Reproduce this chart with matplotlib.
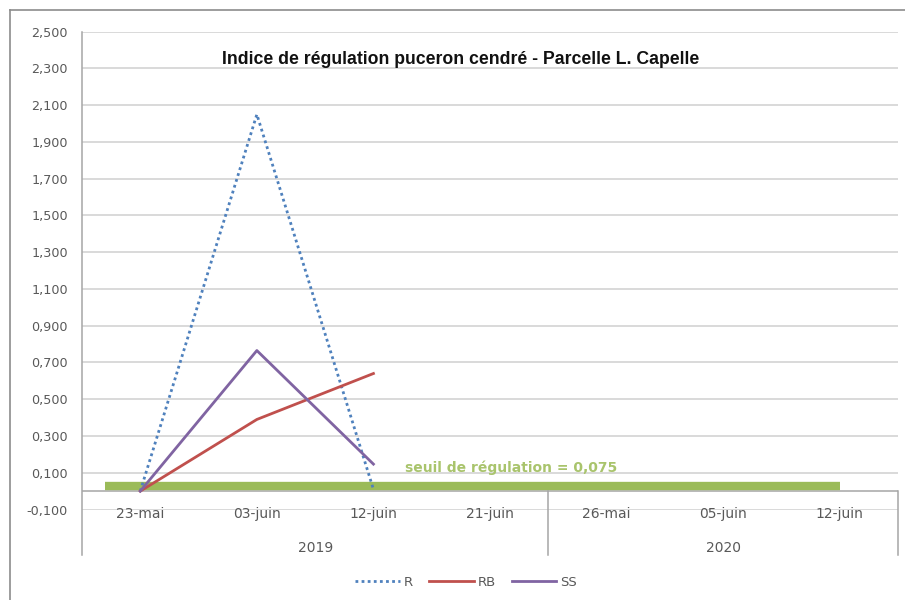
import numpy as np
import matplotlib
matplotlib.use("Agg")
import matplotlib.pyplot as plt
from matplotlib.lines import Line2D

# données
categories = ["23-mai", "03-juin", "12-juin", "21-juin", "26-mai", "05-juin", "12-juin"]
annees = ["2019", "2020"]
nb_par_annee = [4, 3]
serie_R = [0.0, 2.05, 0.01]
serie_RB = [0.0, 0.39, 0.64]
serie_SS = [0.0, 0.765, 0.147]
seuil = 0.027
yticks = np.round(np.arange(-0.1, 2.51, 0.2), 3)

W, H = 905, 600
gris = "#595959"
grille = "#D0D0D0"
axe = "#A6A6A6"
police = "DejaVu Sans"

fig = plt.figure(figsize=(W / 100, H / 100), dpi=100)
left, right, top, bottom = 82, 898, 31.7, 509.5
ax = fig.add_axes([left / W, 1 - bottom / H, (right - left) / W, (bottom - top) / H])

x = np.arange(len(categories))
ax.set_xlim(-0.5, len(categories) - 0.5)
ax.set_ylim(yticks[0], yticks[-1])

for v in yticks:
    ax.axhline(v, color=grille, lw=1.1, zorder=0)

# seuil
ax.hlines(seuil, -0.3, len(categories) - 1, color="#9BBB59", lw=6, zorder=2)
ax.text(2.27, 0.125, "seuil de régulation = 0,075", color="#A9C46C", fontsize=10,
        fontweight="bold", family=police, va="center", ha="left")

ax.plot(x[:len(serie_R)], serie_R, color="#4F81BD", lw=2, linestyle=(0, (1, 1.2)), zorder=3)
ax.plot(x[:len(serie_RB)], serie_RB, color="#C0504D", lw=2, zorder=3)
ax.plot(x[:len(serie_SS)], serie_SS, color="#8064A2", lw=2, zorder=3)

# axes
for s in ax.spines.values():
    s.set_visible(False)
ax.set_xticks([])
ax.set_yticks(yticks)
ax.set_yticklabels([f"{v:.3f}".replace(".", ",") for v in yticks], fontsize=9.2,
                   color=gris, family=police)
ax.tick_params(axis="y", length=0, pad=10)

px = (yticks[-1] - yticks[0]) / (bottom - top)
y_bas = yticks[0] - (555 - bottom) * px
ax.axhline(0, color=axe, lw=1.1, zorder=1)
ax.plot([-0.5, -0.5], [yticks[-1], y_bas], color=axe, lw=1.1, clip_on=False)
debut = -0.5
for n in nb_par_annee:
    debut += n
    ax.plot([debut, debut], [0, y_bas], color=axe, lw=1.1, clip_on=False)

y_cat = yticks[0] - (514 - bottom) * px
y_an = yticks[0] - (548 - bottom) * px
for i, c in enumerate(categories):
    ax.text(i, y_cat, c, ha="center", va="center", fontsize=10, color=gris, family=police)
debut = 0
for a, n in zip(annees, nb_par_annee):
    ax.text(debut + (n - 1) / 2, y_an, a, ha="center", va="center", fontsize=10,
            color=gris, family=police)
    debut += n

fig.text(461 / W, 1 - 60 / H, "Indice de régulation puceron cendré - Parcelle L. Capelle",
         ha="center", va="center", fontsize=12.7, fontweight="bold",
         family="Liberation Sans", color="#111111")

handles = [
    Line2D([], [], color="#4F81BD", lw=2, linestyle=(0, (1, 1.2))),
    Line2D([], [], color="#C0504D", lw=2),
    Line2D([], [], color="#8064A2", lw=2),
]
leg = fig.legend(handles, ["R", "RB", "SS"], loc="center", bbox_to_anchor=(466 / W, 1 - 582 / H),
                 ncol=3, frameon=False, handlelength=3.4, handletextpad=0.3, columnspacing=1.2,
                 prop={"family": police, "size": 9.5})
for t in leg.get_texts():
    t.set_color(gris)

# bordure du graphique
fig.add_artist(Line2D([10 / W, 10 / W], [0, 1 - 10 / H], color="#8C8C8C", lw=1.2))
fig.add_artist(Line2D([10 / W, 1], [1 - 10 / H, 1 - 10 / H], color="#8C8C8C", lw=1.2))

fig.savefig("out.png", dpi=100, facecolor="white")
